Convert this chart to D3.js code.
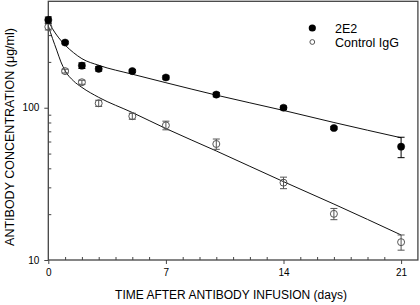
<!DOCTYPE html>
<html>
<head>
<meta charset="utf-8">
<script src="https://cdn.jsdelivr.net/npm/d3@7"></script>
<style>
  body { margin: 0; background: #fff; }
  svg { display: block; font-family: "Liberation Sans", Arial, sans-serif; }
</style>
</head>
<body>
<svg id="chart" width="420" height="305"></svg>
<script>
// measured days
const days = [0, 1, 2, 3, 5, 7, 10, 14, 17, 21];

// 2E2 (filled) mean and SEM, ug/ml
const e2Mean = [377, 268, 189, 180, 174, 158, 122, 100, 73.6, 55.5];
const e2Err  = [17, 5, 8, 6, 4, 4, 4, 2.5, 1.5, 8.5];

// Control IgG (open)
const igMean = [340, 174, 147, 107, 88, 76.6, 57.8, 32.2, 20.1, 13.1];
const igErr  = [16, 5, 4.5, 5, 4, 5, 4.5, 2.8, 1.7, 1.5];

// fitted curves
const fitDays = [0, 0.25, 0.5, 1, 1.5, 2, 3, 5, 7, 10, 14, 17, 21];
const e2Fit   = [372, 330, 300, 258, 230, 210, 190, 166, 146, 121, 96, 80, 63.5];
const igFitDays = [0, 0.25, 0.5, 0.75, 1, 1.5, 2, 3, 5, 7, 10, 14, 17, 21];
const igFit     = [345, 285, 239, 200, 175, 150, 136, 117, 93, 73, 52, 32.7, 23.3, 14.6];

const xTickLabels = [0, 7, 14, 21];
const yTickLabels = [10, 100];

const margin = { top: 1.3, left: 48.3, right: 2, bottom: 45 };
const height = 260 - margin.top;

const svg = d3.select('#chart');
const g = svg.append('g')
    .attr('transform', `translate(${margin.left},${margin.top})`);

const x = d3.scaleLinear().domain([0, 22]).range([0, 369.6]);
const y = d3.scaleLog().domain([10, 500]).range([height, 0]);

const axisColor = '#444';

// minor ticks, pointing inward
const xMinor = d3.range(1, 22).filter(d => !xTickLabels.includes(d));
g.append('g')
    .attr('transform', `translate(0,${height})`)
    .call(d3.axisBottom(x).tickValues(xMinor).tickSize(-3).tickFormat(''))
    .call(s => s.select('.domain').remove())
    .selectAll('line').attr('stroke', axisColor);

const yMinor = [20, 30, 40, 50, 60, 70, 80, 90, 200, 300, 400];
g.append('g')
    .call(d3.axisLeft(y).tickValues(yMinor).tickSize(-3).tickFormat(''))
    .call(s => s.select('.domain').remove())
    .selectAll('line').attr('stroke', axisColor);

// major ticks with labels
const xAxis = g.append('g')
    .attr('transform', `translate(0,${height})`)
    .call(d3.axisBottom(x).tickValues(xTickLabels).tickSize(4).tickPadding(5).tickFormat(d3.format('d')));
xAxis.select('.domain').remove();
xAxis.selectAll('line').attr('stroke', axisColor);
xAxis.selectAll('text').attr('font-size', 10).attr('fill', '#000')
    .attr('font-family', '"Liberation Sans", Arial, sans-serif');

const yAxis = g.append('g')
    .call(d3.axisLeft(y).tickValues(yTickLabels).tickSize(4).tickPadding(5).tickFormat(d3.format('d')));
yAxis.select('.domain').remove();
yAxis.selectAll('line').attr('stroke', axisColor);
yAxis.selectAll('text').attr('font-size', 10).attr('fill', '#000')
    .attr('font-family', '"Liberation Sans", Arial, sans-serif');

// frame
g.append('rect')
    .attr('x', 0).attr('y', 0)
    .attr('width', x(22)).attr('height', height)
    .attr('fill', 'none')
    .attr('stroke', axisColor)
    .attr('stroke-width', 1.3);

// fitted lines
const line = d3.line()
    .x(d => x(d[0]))
    .y(d => y(d[1]))
    .curve(d3.curveMonotoneX);

g.append('path')
    .datum(d3.zip(fitDays, e2Fit))
    .attr('fill', 'none').attr('stroke', '#111').attr('stroke-width', 1)
    .attr('d', line);

g.append('path')
    .datum(d3.zip(igFitDays, igFit))
    .attr('fill', 'none').attr('stroke', '#111').attr('stroke-width', 1)
    .attr('d', line);

// error bars + markers
function drawSeries(means, errs, color, filled, r) {
    const pts = days.map((d, i) => ({ t: d, v: means[i], e: errs[i] }));
    const eb = g.append('g').attr('stroke', color).attr('stroke-width', 1);
    pts.forEach(p => {
        const y0 = y(p.v + p.e), y1 = y(p.v - p.e), cx = x(p.t);
        eb.append('line').attr('x1', cx).attr('x2', cx).attr('y1', y0).attr('y2', y1);
        eb.append('line').attr('x1', cx - 3.5).attr('x2', cx + 3.5).attr('y1', y0).attr('y2', y0);
        eb.append('line').attr('x1', cx - 3.5).attr('x2', cx + 3.5).attr('y1', y1).attr('y2', y1);
    });
    g.append('g').selectAll('circle')
        .data(pts)
        .join('circle')
        .attr('cx', d => x(d.t))
        .attr('cy', d => y(d.v))
        .attr('r', r)
        .attr('fill', filled ? color : 'none')
        .attr('stroke', color)
        .attr('stroke-width', filled ? 0.5 : 1);
}
drawSeries(igMean, igErr, '#555', false, 3.5);
drawSeries(e2Mean, e2Err, '#000', true, 3.6);

// legend
const legend = svg.append('g').attr('font-size', 12.5);
legend.append('circle').attr('cx', 312.3).attr('cy', 28).attr('r', 3.6).attr('fill', '#000');
legend.append('text').attr('x', 335).attr('y', 32.5).text('2E2');
legend.append('circle').attr('cx', 312.3).attr('cy', 42).attr('r', 2.4)
    .attr('fill', 'none').attr('stroke', '#555').attr('stroke-width', 1);
legend.append('text').attr('x', 335).attr('y', 46.5).text('Control IgG');

// axis titles
svg.append('text')
    .attr('x', 231).attr('y', 299)
    .attr('text-anchor', 'middle')
    .attr('font-size', 12)
    .text('TIME AFTER ANTIBODY INFUSION (days)');

svg.append('text')
    .attr('transform', 'translate(14,137) rotate(-90)')
    .attr('text-anchor', 'middle')
    .attr('font-size', 12.5)
    .text('ANTIBODY CONCENTRATION (μg/ml)');
</script>
</body>
</html>
